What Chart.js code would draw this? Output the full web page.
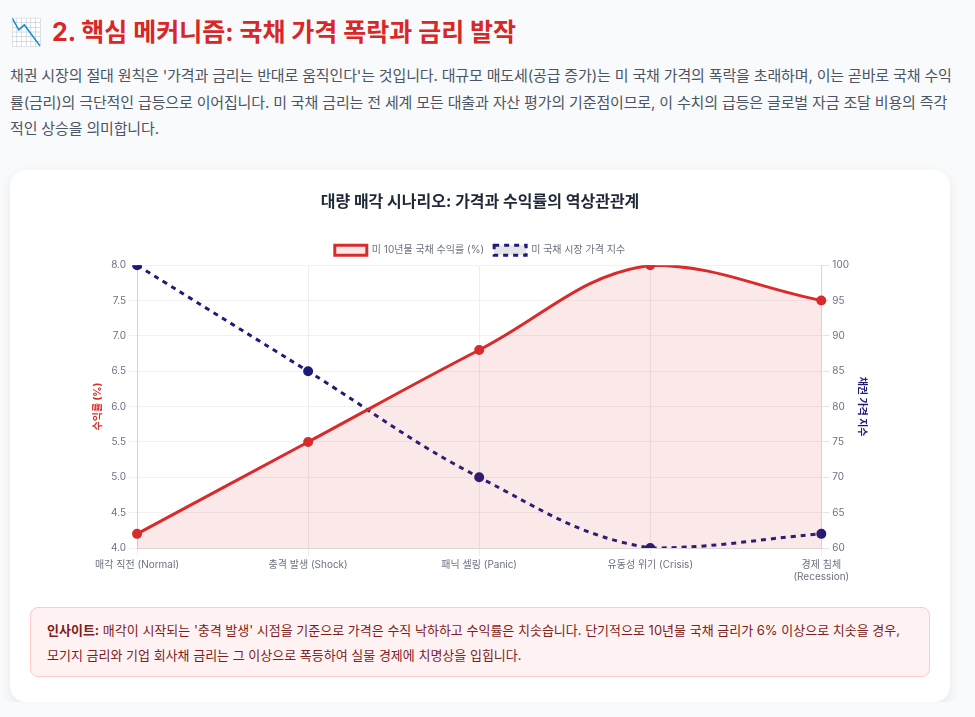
<!DOCTYPE html>
<html lang="ko">
<head>
<meta charset="utf-8">
<title>국채 가격 폭락과 금리 발작</title>
<script src="https://cdn.jsdelivr.net/npm/chart.js@4.4.1/dist/chart.umd.min.js"></script>
<style>
    body {
        margin: 0;
        background: #f9fafb;
        font-family: Inter, "Noto Sans CJK KR", sans-serif;
        color: #374151;
    }
    .page { padding: 12px 10px 0 10px; width: 940px; }
    h2 {
        margin: 0 0 11px 0;
        font-size: 25px;
        font-weight: 700;
        color: #d92626;
        line-height: 40px;
        display: flex;
        align-items: center;
    }
    h2 .icon { font-size: 26px; margin-right: 10px; color: #1e3a8a; }
    p.lead {
        margin: 0;
        width: 950px;
        font-size: 15px;
        line-height: 26.5px;
        letter-spacing: -0.15px;
        color: #4b5563;
    }
    .card {
        margin-top: 27px;
        background: #fff;
        border-radius: 16px;
        box-shadow: 0 4px 12px rgba(0,0,0,0.08);
        height: 532px;
        position: relative;
    }
    .chart-wrap {
        position: absolute;
        left: 78px;
        top: 14px;
        width: 784px;
        height: 402px;
    }
    .insight {
        position: absolute;
        left: 20px;
        right: 20px;
        top: 437px;
        height: 70px;
        box-sizing: border-box;
        background: #fef2f2;
        border: 1px solid #fecaca;
        border-radius: 8px;
        padding: 10px 16px;
        font-size: 13px;
        line-height: 25px;
        color: #7f1d1d;
    }
    .insight b { color: #7f1d1d; }
</style>
</head>
<body>
<div class="page">
    <h2><span class="icon">📉</span>2. 핵심 메커니즘: 국채 가격 폭락과 금리 발작</h2>
    <p class="lead">채권 시장의 절대 원칙은 '가격과 금리는 반대로 움직인다'는 것입니다. 대규모 매도세(공급 증가)는 미 국채 가격의 폭락을 초래하며, 이는 곧바로 국채 수익률(금리)의 극단적인 급등으로 이어집니다. 미 국채 금리는 전 세계 모든 대출과 자산 평가의 기준점이므로, 이 수치의 급등은 글로벌 자금 조달 비용의 즉각적인 상승을 의미합니다.</p>
    <div class="card">
        <div class="chart-wrap"><canvas id="yieldChart"></canvas></div>
        <div class="insight"><b>인사이트:</b> 매각이 시작되는 '충격 발생' 시점을 기준으로 가격은 수직 낙하하고 수익률은 치솟습니다. 단기적으로 10년물 국채 금리가 6% 이상으로 치솟을 경우, 모기지 금리와 기업 회사채 금리는 그 이상으로 폭등하여 실물 경제에 치명상을 입힙니다.</div>
    </div>
</div>
<script>
const stages = ['매각 직전 (Normal)', '충격 발생 (Shock)', '패닉 셀링 (Panic)', '유동성 위기 (Crisis)', ['경제 침체', '(Recession)']];
const yieldValues = [4.2, 5.5, 6.8, 8.0, 7.5];
const priceIndex = [100, 85, 70, 60, 62];

const red = '#d92b2b';
const navy = '#1e1b7a';
const tickColor = '#6b7280';

Chart.defaults.font.family = 'Inter, "Noto Sans CJK KR", sans-serif';

new Chart(document.getElementById('yieldChart'), {
    type: 'line',
    data: {
        labels: stages,
        datasets: [{
            label: '미 10년물 국채 수익률 (%)',
            data: yieldValues,
            borderColor: red,
            backgroundColor: 'rgba(220, 38, 38, 0.1)',
            fill: true,
            borderWidth: 3,
            tension: 0.4,
            pointRadius: 3.5,
            pointBackgroundColor: red,
            yAxisID: 'y'
        }, {
            label: '미 국채 시장 가격 지수',
            data: priceIndex,
            borderColor: navy,
            backgroundColor: 'rgba(0, 0, 0, 0.1)',
            borderDash: [5, 5],
            fill: false,
            borderWidth: 3,
            tension: 0.4,
            pointRadius: 3.5,
            pointBackgroundColor: navy,
            yAxisID: 'y1'
        }]
    },
    options: {
        responsive: true,
        maintainAspectRatio: false,
        animation: false,
        plugins: {
            title: {
                display: true,
                text: '대량 매각 시나리오: 가격과 수익률의 역상관관계',
                color: '#1f2937',
                font: { size: 16, weight: 'bold' },
                padding: { top: 9, bottom: 23 }
            },
            legend: {
                labels: {
                    boxWidth: 32,
                    boxHeight: 10,
                    color: tickColor,
                    font: { size: 10 }
                }
            }
        },
        scales: {
            x: {
                grid: { color: '#eeeeee' },
                ticks: { color: tickColor, font: { size: 10 } }
            },
            y: {
                type: 'linear',
                position: 'left',
                min: 4.0,
                max: 8.0,
                grid: { color: '#f1f1f1' },
                ticks: {
                    color: tickColor,
                    font: { size: 10 },
                    stepSize: 0.5,
                    callback: v => v.toFixed(1)
                },
                title: {
                    display: true,
                    text: '수익률 (%)',
                    color: red,
                    font: { size: 10, weight: 'bold' }
                }
            },
            y1: {
                type: 'linear',
                position: 'right',
                min: 60,
                max: 100,
                grid: { drawOnChartArea: false },
                ticks: { color: tickColor, font: { size: 10 }, stepSize: 5 },
                title: {
                    display: true,
                    text: '채권 가격 지수',
                    color: navy,
                    font: { size: 10, weight: 'bold' }
                }
            }
        }
    }
});
</script>
</body>
</html>
